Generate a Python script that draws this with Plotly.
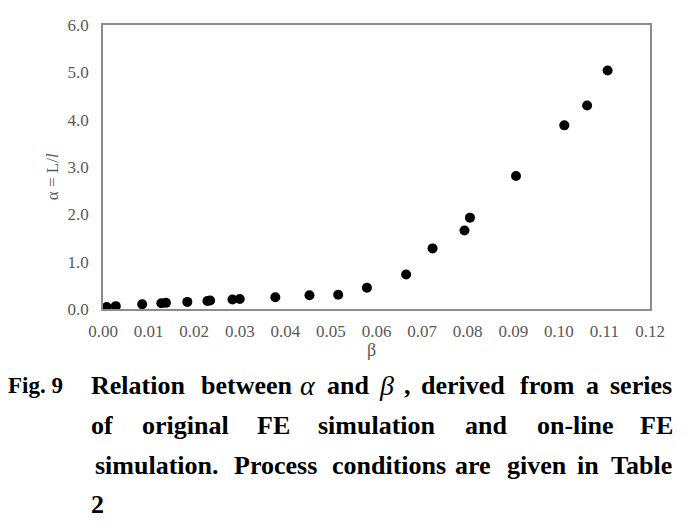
import plotly.graph_objects as go

# ---- data ----
beta = [0.0008, 0.0028, 0.0086, 0.0128, 0.0138, 0.0185, 0.0229, 0.0235, 0.0284,
        0.0300, 0.0378, 0.0453, 0.0516, 0.0579, 0.0665, 0.0723, 0.0793, 0.0805,
        0.0906, 0.1012, 0.1062, 0.1107]
alpha = [0.04, 0.06, 0.10, 0.12, 0.13, 0.15, 0.17, 0.18, 0.20,
         0.21, 0.25, 0.29, 0.30, 0.45, 0.73, 1.28, 1.66, 1.93,
         2.81, 3.88, 4.30, 5.04]

x_title = "β"
y_title = "α = L/<i>l</i>"

# caption, word by word (justified lines)
caption_lines = [
    ["Fig. 9", "Relation", "between", "α", "and", "β", ",", "derived", "from", "a", "series"],
    ["of", "original", "FE", "simulation", "and", "on-line", "FE"],
    ["simulation.", "Process", "conditions", "are", "given", "in", "Table"],
    ["2"],
]
greek_words = {"α", "β"}

# ---- layout (pixel geometry, page coordinates) ----
W, H = 694, 531
OFF = 8  # default body margin of the html page
L, R, T, B = 103, 650, 16, 309
word_centers = [
    [35, 138, 247, 308, 348, 386, 407, 463, 547, 592, 641],
    [102, 185, 273, 377, 486, 575, 657],
    [157, 275, 389, 473, 537, 588, 641],
    [97],
]
line_baselines = [396, 437, 478, 519]

def px(xp):
    return (xp - L) / (R - L)

def py(yp):
    return (B - yp) / (B - T)

serif = "Liberation Serif, Times New Roman, serif"
axis_col = "#595959"

fig = go.Figure()
fig.add_trace(go.Scatter(
    x=beta, y=alpha, mode="markers",
    marker=dict(color="black", size=10, line=dict(width=0)),
    showlegend=False, hoverinfo="x+y",
))

annotations = []
# axis titles
annotations.append(dict(text=y_title, x=px(52), y=py(173), xref="paper", yref="paper",
                        textangle=-90, showarrow=False, xanchor="center", yanchor="middle",
                        font=dict(family=serif, size=17, color=axis_col)))
annotations.append(dict(text=x_title, x=px(371), y=py(351), xref="paper", yref="paper",
                        showarrow=False, xanchor="center", yanchor="middle",
                        font=dict(family=serif, size=18, color=axis_col)))

# caption words
for words, centers, base in zip(caption_lines, word_centers, line_baselines):
    for w, cx in zip(words, centers):
        if w in greek_words:
            f = dict(family=serif, size=28, color="black", style="italic", weight="normal")
        elif w == "Fig. 9":
            f = dict(family=serif, size=23, color="black", weight="bold")
        else:
            f = dict(family=serif, size=26, color="black", weight="bold")
        annotations.append(dict(text=w, x=px(cx), y=py(base - 8), xref="paper", yref="paper",
                                showarrow=False, xanchor="center", yanchor="middle",
                                font=f))

fig.update_layout(
    width=W - OFF, height=H - OFF,
    margin=dict(l=L - OFF, r=W - R, t=T - OFF, b=H - B, pad=0),
    paper_bgcolor="white", plot_bgcolor="white",
    showlegend=False,
    annotations=annotations,
    xaxis=dict(range=[0, 0.12], dtick=0.01, tick0=0, tickformat=".2f",
               showgrid=False, zeroline=False, showline=True, mirror=True,
               linecolor="#8c8c8c", linewidth=1.5, ticks="",
               ticklabelstandoff=6,
               tickfont=dict(family=serif, size=17, color=axis_col)),
    yaxis=dict(range=[0, 6], dtick=1, tick0=0, tickformat=".1f",
               showgrid=False, zeroline=False, showline=True, mirror=True,
               linecolor="#8c8c8c", linewidth=1.5, ticks="",
               ticklabelstandoff=9,
               tickfont=dict(family=serif, size=17, color=axis_col)),
)

fig.write_html("out.html")
